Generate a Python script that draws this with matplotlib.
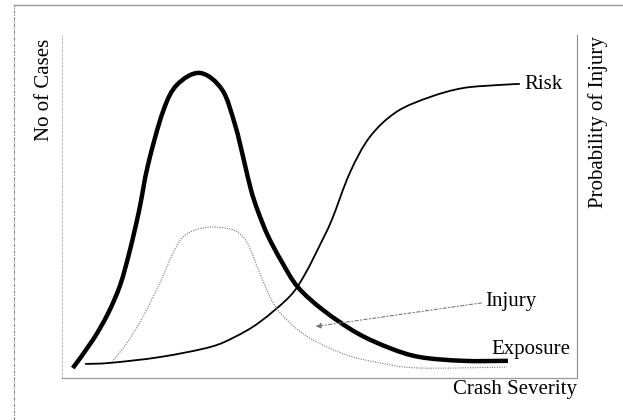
import numpy as np
import matplotlib
matplotlib.use("Agg")
import matplotlib.pyplot as plt
from matplotlib.path import Path
from matplotlib.patches import PathPatch
from matplotlib.lines import Line2D

plt.rcParams['font.family'] = ['Liberation Serif', 'DejaVu Serif']

# crash severity (0-100) vs relative level (0-100)
exposure_x = [2.1, 6.0, 8.9, 11.3, 13.2, 15.0, 16.7, 19.6, 22.3, 26.8, 31.1, 33.6,
              35.3, 36.7, 38.1, 40.0, 42.7, 45.8, 50.7, 57.3, 63.7, 69.5, 77.9, 86.6]
exposure_y = [2.9, 11.1, 18.7, 27.1, 37.3, 49.0, 62.1, 77.6, 85.4, 88.9, 84.0, 73.8,
              63.6, 54.8, 48.4, 41.4, 33.8, 26.5, 19.8, 13.1, 8.7, 6.1, 5.0, 5.0]

risk_x = [4.5, 9.3, 19.0, 28.7, 33.6, 38.4, 44.3, 47.2, 50.1, 52.4, 55.9, 59.8,
          65.0, 71.5, 77.9, 85.0, 88.9]
risk_y = [4.1, 4.4, 6.1, 9.0, 12.0, 16.3, 23.9, 30.3, 38.8, 46.1, 59.8, 70.3,
          77.6, 81.9, 84.5, 85.4, 85.7]

injury_x = [9.7, 12.6, 15.7, 19.0, 21.4, 23.3, 25.8, 28.7, 31.7, 34.0, 36.1, 38.4,
            41.0, 44.3, 48.7, 55.3, 61.7, 69.5, 86.4]
injury_y = [4.7, 10.2, 17.8, 27.7, 35.9, 40.8, 43.1, 44.0, 43.7, 42.6, 39.1, 30.6,
            21.9, 16.0, 11.1, 6.7, 4.4, 2.9, 3.2]


def smooth_path(xs, ys):
    # catmull-rom through the read points, drawn as bezier segments
    pts = np.column_stack([xs, ys])
    verts = [pts[0]]
    codes = [Path.MOVETO]
    n = len(pts)
    for i in range(n - 1):
        p0 = pts[max(i - 1, 0)]
        p1 = pts[i]
        p2 = pts[i + 1]
        p3 = pts[min(i + 2, n - 1)]
        verts += [p1 + (p2 - p0) / 6, p2 - (p3 - p1) / 6, p2]
        codes += [Path.CURVE4] * 3
    return Path(verts, codes)


fig = plt.figure(figsize=(6.23, 4.2), dpi=100)
ax = fig.add_axes([0.0995, 0.1, 0.8266, 0.817])
ax.set_xlim(0, 100)
ax.set_ylim(0, 100)

ax.add_patch(PathPatch(smooth_path(exposure_x, exposure_y), fill=False,
                       lw=3.2, color='black', capstyle='butt'))
ax.add_patch(PathPatch(smooth_path(risk_x, risk_y), fill=False,
                       lw=1.3, color='black'))
ax.add_patch(PathPatch(smooth_path(injury_x, injury_y), fill=False,
                       lw=0.8, color='#777777', linestyle=(0, (1, 1.2))))

fs = 15
ax.text(89.8, 85.4, "Risk", fontsize=fs, va='center', ha='left')
ax.text(82.2, 22.3, "Injury", fontsize=fs, va='center', ha='left')
ax.text(83.3, 8.3, "Exposure", fontsize=fs, va='center', ha='left')
ax.annotate("", xy=(48.7, 14.9), xytext=(82.0, 22.0),
            arrowprops=dict(arrowstyle='-|>', color='#777777', lw=0.8,
                            linestyle=(0, (3, 2, 1, 2)), mutation_scale=8))

ax.set_xticks([])
ax.set_yticks([])
ax.spines['top'].set_visible(False)
ax.spines['left'].set_color('#bbbbbb')
ax.spines['left'].set_linestyle((0, (2, 2)))
ax.spines['left'].set_linewidth(0.7)
ax.spines['bottom'].set_color('#999999')
ax.spines['bottom'].set_linewidth(0.9)
ax.spines['right'].set_color('#888888')
ax.spines['right'].set_linestyle((0, (4, 1, 1, 1)))
ax.spines['right'].set_linewidth(0.8)

fig.text(0.926, 0.072, "Crash Severity", fontsize=fs, ha='right', va='center')
fig.text(0.072, 0.785, "No of Cases", fontsize=fs, rotation=90,
         ha='center', va='center')
fig.text(0.96, 0.71, "Probability of Injury", fontsize=fs, rotation=90,
         ha='center', va='center')

# outer scanned frame
fig.add_artist(Line2D([0.0225, 0.0225], [0.0, 0.988], transform=fig.transFigure,
                      color='#888888', lw=0.8, linestyle=(0, (3, 1, 1, 1))))
fig.add_artist(Line2D([0.0225, 1.0], [0.988, 0.988], transform=fig.transFigure,
                      color='#999999', lw=1.0))

fig.savefig("out.png", dpi=100)
